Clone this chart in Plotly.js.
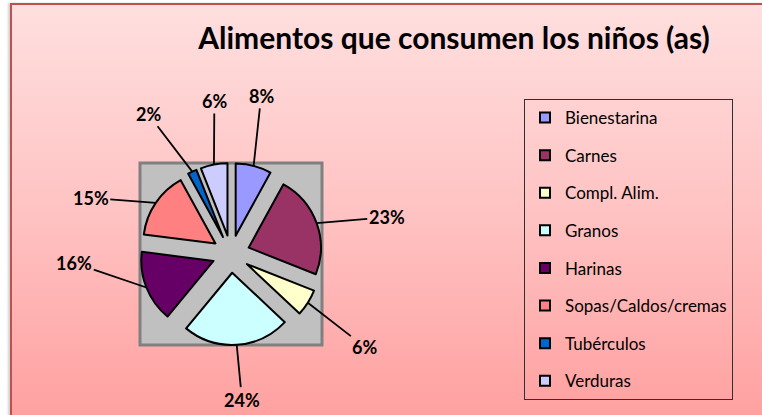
<!DOCTYPE html>
<html><head><meta charset="utf-8">
<script src="https://cdn.plot.ly/plotly-3.0.1.min.js"></script>
<style>
html,body{margin:0;padding:0;background:#fff;}
#wrap{position:relative;width:762px;height:415px;overflow:hidden;}
#bg{position:absolute;left:10px;top:3px;width:760px;height:420px;background:linear-gradient(to bottom,#ffdfdf 0%,#ffc2c2 50%,#ff9f9f 100%);border-left:2px solid #c0504d;border-top:2px solid #c0504d;box-shadow:-2px 0 2px rgba(0,0,0,0.18);}
#chart{position:absolute;left:0;top:0;width:762px;height:415px;}
</style></head><body>
<div id="wrap"><div id="bg"></div><div id="chart"></div></div>
<script>
// ---- data ----
const categories = ["Bienestarina","Carnes","Compl. Alim.","Granos","Harinas","Sopas/Caldos/cremas","Tubérculos","Verduras"];
const values = [8, 23, 6, 24, 16, 15, 2, 6];
const colors = ["#9999ff","#993366","#ffffcc","#ccffff","#660066","#ff8080","#0066cc","#ccccff"];
const chartTitle = "Alimentos que consumen los niños (as)";

// ---- layout settings ----
const W = 762, H = 415;
const pieBox = {x0: 140, x1: 322, y0: 163, y1: 345};
const pull = 0.26;
const labelNudgeDeg = [-3.6, 6.5, 2.4, -0.7, 18.3, -12.4, -5.4, 4.6];
const labelRadius = [161, 160, 163, 146, 157, 151, 163, 154];
const font = "Lato, 'Open Sans', sans-serif";

const total = values.reduce((a, b) => a + b, 0);
const cx = (pieBox.x0 + pieBox.x1) / 2, cy = (pieBox.y0 + pieBox.y1) / 2;
const r = Math.min(pieBox.x1 - pieBox.x0, pieBox.y1 - pieBox.y0) / (2 + 2 * pull);

const annotations = [];
let cum = 0;
values.forEach((v, i) => {
  const a0 = cum / total * 360, a1 = (cum + v) / total * 360;
  cum += v;
  const mid = (a0 + a1) / 2 * Math.PI / 180;
  const tipX = cx + (r + pull * r) * Math.sin(mid);
  const tipY = cy - (r + pull * r) * Math.cos(mid);
  const la = ((a0 + a1) / 2 + labelNudgeDeg[i]) * Math.PI / 180;
  const lx = cx + labelRadius[i] * Math.sin(la);
  const ly = cy - labelRadius[i] * Math.cos(la);
  annotations.push({
    xref: 'paper', yref: 'paper', x: tipX / W, y: 1 - tipY / H,
    ax: lx - tipX, ay: ly - tipY,
    text: Math.round(v / total * 100) + '%',
    showarrow: true, arrowhead: 0, arrowwidth: 1.8, arrowcolor: '#000',
    standoff: 0, startstandoff: 0,
    font: {family: font, size: 18, color: '#000', weight: 'bold'}
  });
});

const traces = [{
  type: 'pie', labels: categories, values: values, sort: false,
  direction: 'clockwise', rotation: 0, pull: pull,
  marker: {colors: colors, line: {color: '#000', width: 2}},
  textinfo: 'none', hoverinfo: 'label+percent', showlegend: false,
  domain: {x: [pieBox.x0 / W, pieBox.x1 / W], y: [1 - pieBox.y1 / H, 1 - pieBox.y0 / H]}
}];
categories.forEach((c, i) => {
  traces.push({
    type: 'scatter', mode: 'markers', x: [null], y: [null], name: c,
    legendgroup: c, showlegend: true, hoverinfo: 'skip',
    marker: {symbol: 'square', size: 10, color: colors[i], line: {color: '#000', width: 2}}
  });
});

const layout = {
  width: W, height: H,
  margin: {l: 0, r: 0, t: 0, b: 0},
  paper_bgcolor: 'rgba(0,0,0,0)', plot_bgcolor: 'rgba(0,0,0,0)',
  xaxis: {visible: false}, yaxis: {visible: false},
  title: {text: chartTitle, x: 454 / W, xanchor: 'center', xref: 'container',
          y: 1 - 38 / H, yanchor: 'middle', yref: 'container',
          font: {family: font, size: 30, color: '#000', weight: 'bold'}},
  showlegend: true,
  legend: {x: 524 / W, y: 1 - 99 / H, xanchor: 'left', yanchor: 'top',
           bgcolor: 'rgba(0,0,0,0)', bordercolor: '#303030', borderwidth: 1,
           font: {family: font, size: 17, color: '#000'},
           tracegroupgap: 12.5, itemwidth: 30, traceorder: 'grouped'},
  shapes: [{type: 'rect', xref: 'paper', yref: 'paper', layer: 'below',
            x0: pieBox.x0 / W, x1: pieBox.x1 / W, y0: 1 - pieBox.y1 / H, y1: 1 - pieBox.y0 / H,
            fillcolor: '#c0c0c0', line: {color: '#808080', width: 3}}],
  annotations: annotations
};
Plotly.newPlot('chart', traces, layout, {displayModeBar: false, staticPlot: true});
</script>
</body></html>
